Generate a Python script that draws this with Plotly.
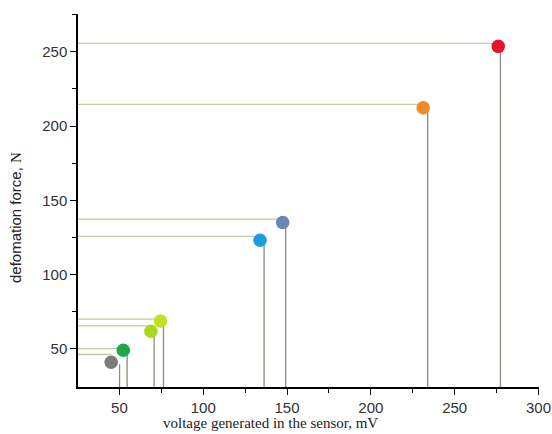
import plotly.graph_objects as go

# Data
voltage = [45.1, 52.3, 68.8, 74.5, 133.9, 147.4, 231.2, 276.0]      # dot x (mV)
force = [41.0, 49.1, 61.9, 68.8, 123.2, 135.1, 212.3, 253.7]        # dot y (N)
hline_force = [46.2, 50.2, 65.4, 70.0, 125.7, 137.3, 214.6, 255.7]  # horizontal drop-line level
vline_voltage = [50.1, 54.6, 70.7, 76.3, 136.3, 149.2, 233.9, 277.3]  # vertical drop-line position
colors = ["#7b7b7b", "#1fa84a", "#a9d81f", "#c2e024", "#1c9be0", "#6b87b6", "#f4892a", "#e5162c"]

x_tick_vals = [50, 100, 150, 200, 250, 300]
y_tick_vals = [50, 100, 150, 200, 250]
x_minor = [75, 125, 175, 225, 275]
y_minor = [75, 125, 175, 225, 275]
x_range = [25.3, 300.3]
y_range = [24.3, 275.5]
x_title = "voltage generated in the sensor, mV"
y_title = "defomation force, <span style='font-family:Times New Roman, Liberation Serif'>N</span>"

fig = go.Figure()

for vx, hy in zip(voltage, hline_force):
    fig.add_trace(go.Scatter(
        x=[x_range[0], vx], y=[hy, hy], mode="lines",
        line=dict(color="#c9c99c", width=1.3), hoverinfo="skip", showlegend=False))

for fy, vl in zip(force, vline_voltage):
    fig.add_trace(go.Scatter(
        x=[vl, vl], y=[fy - 1.5, y_range[0]], mode="lines",
        line=dict(color="#8c8c7c", width=1.3), hoverinfo="skip", showlegend=False))

fig.add_trace(go.Scatter(
    x=voltage, y=force, mode="markers",
    marker=dict(color=colors, size=13.5, line=dict(width=0)),
    showlegend=False))

axis_common = dict(
    showline=True, linecolor="black", linewidth=1.5,
    ticks="outside", ticklen=6, tickwidth=1.3, tickcolor="black",
    showgrid=False, zeroline=False, automargin=False,
    tickfont=dict(family="Arial, Liberation Sans", size=15, color="#333333"),
)

fig.update_xaxes(
    range=x_range, tickvals=x_tick_vals,
    minor=dict(ticks="outside", ticklen=4, tickwidth=1.2, tickcolor="black", tickvals=x_minor),
    **axis_common)
fig.update_yaxes(
    range=y_range, tickvals=y_tick_vals,
    minor=dict(ticks="outside", ticklen=4, tickwidth=1.2, tickcolor="black", tickvals=y_minor),
    **axis_common)

fig.add_annotation(
    text=x_title, xref="paper", yref="paper", x=0.418, y=-0.097,
    xanchor="center", yanchor="middle", showarrow=False,
    font=dict(family="Times New Roman, Liberation Serif", size=15, color="#222222"))
fig.add_annotation(
    text=y_title, xref="paper", yref="paper", x=-0.135, y=0.455,
    xanchor="center", yanchor="middle", showarrow=False, textangle=-90,
    font=dict(family="Arial, Liberation Sans", size=15, color="#222222"))

fig.update_layout(
    width=552, height=434,
    margin=dict(l=78, r=13, t=14, b=47),
    plot_bgcolor="white", paper_bgcolor="white",
)

fig.write_html("out.html", config={"displayModeBar": False},
               post_script="document.body.style.margin='0px';")
